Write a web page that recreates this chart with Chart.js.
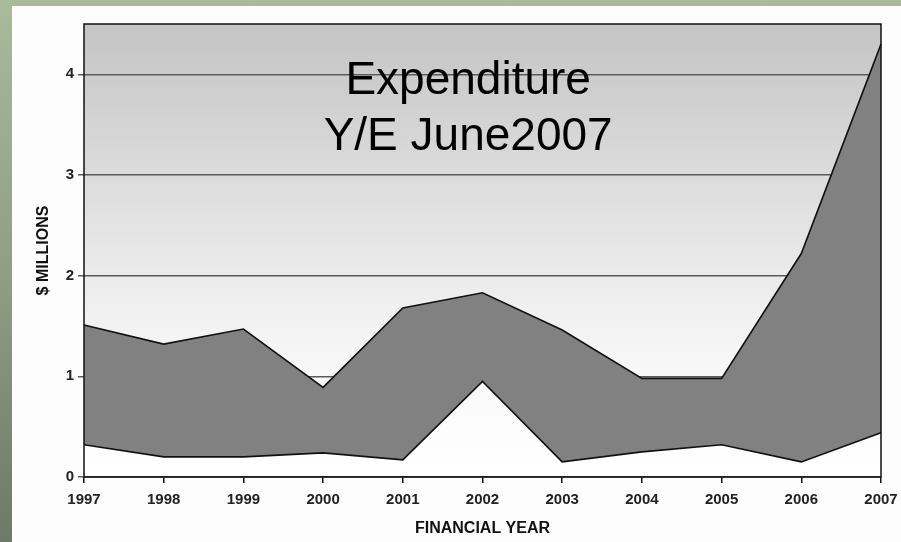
<!DOCTYPE html>
<html>
<head>
<meta charset="utf-8">
<script src="https://cdn.jsdelivr.net/npm/chart.js@4.4.1/dist/chart.umd.min.js"></script>
<style>
  html, body { margin:0; padding:0; }
  body {
    width:901px; height:542px; overflow:hidden;
    background: linear-gradient(to bottom, #a9bb9b 0%, #8f9e84 50%, #6c7a67 100%);
    position:relative;
  }
  #wrap {
    position:absolute; left:12px; top:6px; width:889px; height:536px;
    background:#fdfdfd;
  }
</style>
</head>
<body>
<div id="wrap"><canvas id="chart" width="889" height="536"></canvas></div>
<script>
// ---- data ----
const years     = ['1997','1998','1999','2000','2001','2002','2003','2004','2005','2006','2007'];
const upperVals = [1.51, 1.32, 1.47, 0.89, 1.68, 1.83, 1.46, 0.98, 0.98, 2.22, 4.30];
const lowerVals = [0.32, 0.20, 0.20, 0.24, 0.17, 0.95, 0.15, 0.25, 0.32, 0.15, 0.44];
const yTicks    = [0, 1, 2, 3, 4];
const titleLines = ['Expenditure', 'Y/E June2007'];

const FONT = 'Liberation Sans, Arial, sans-serif';

// gradient behind the plot + frame + title text
const plotDeco = {
  id: 'plotDeco',
  beforeDraw(chart) {
    const { ctx, chartArea: a } = chart;
    const g = ctx.createLinearGradient(0, a.top, 0, a.bottom);
    g.addColorStop(0, '#c4c4c4');
    g.addColorStop(0.55, '#ebebeb');
    g.addColorStop(0.8, '#fafafa');
    g.addColorStop(1, '#ffffff');
    ctx.save();
    ctx.fillStyle = g;
    ctx.fillRect(a.left, a.top, a.right - a.left, a.bottom - a.top);
    ctx.restore();
  },
  afterDatasetsDraw(chart) {
    const { ctx, chartArea: a } = chart;
    ctx.save();
    ctx.fillStyle = '#000';
    ctx.font = '46px ' + FONT;
    ctx.textAlign = 'center';
    ctx.textBaseline = 'alphabetic';
    const cx = a.left + (a.right - a.left) * 0.482;
    ctx.fillText(titleLines[0], cx, a.top + 70);
    ctx.fillText(titleLines[1], cx, a.top + 126);
    ctx.strokeStyle = '#111';
    ctx.lineWidth = 1.5;
    ctx.strokeRect(a.left, a.top, a.right - a.left, a.bottom - a.top);
    ctx.restore();
  }
};

new Chart(document.getElementById('chart'), {
  type: 'line',
  data: {
    labels: years,
    datasets: [
      {
        label: 'Lower',
        data: lowerVals,
        borderColor: '#111',
        borderWidth: 1.6,
        pointRadius: 0,
        tension: 0,
        fill: false,
      },
      {
        label: 'Upper',
        data: upperVals,
        borderColor: '#111',
        borderWidth: 1.6,
        pointRadius: 0,
        tension: 0,
        fill: { target: 0 },
        backgroundColor: '#818181',
      }
    ]
  },
  options: {
    responsive: false,
    animation: false,
    layout: { padding: { top: 18, right: 20, left: 0, bottom: 0 } },
    plugins: {
      legend: { display: false },
      tooltip: { enabled: false },
    },
    scales: {
      x: {
        type: 'category',
        offset: false,
        grid: { drawOnChartArea: false, drawTicks: true, tickLength: 6, color: '#111', lineWidth: 1.5 },
        border: { display: false },
        ticks: { color: '#222', font: { family: FONT, size: 15, weight: 'bold' }, maxRotation: 0, padding: 8 },
        title: { display: true, text: 'FINANCIAL YEAR', color: '#111', font: { family: FONT, size: 16, weight: 'bold' }, padding: { top: 4, bottom: 4 } },
        afterFit: s => { s.height = 65; s.paddingRight = 0; s.paddingLeft = 0; },
      },
      y: {
        min: 0,
        max: 4.5,
        afterBuildTicks: s => { s.ticks = yTicks.map(v => ({ value: v })); },
        grid: { color: '#5a5a5a', lineWidth: 1.5, tickLength: 6, drawTicks: true },
        border: { display: false },
        ticks: { color: '#222', font: { family: FONT, size: 15, weight: 'bold' }, padding: 4 },
        title: { display: true, text: '$ MILLIONS', color: '#111', font: { family: FONT, size: 16, weight: 'bold' }, padding: { top: 22, bottom: 4 } },
        afterFit: s => { s.width = 72; },
      }
    }
  },
  plugins: [plotDeco]
});
</script>
</body>
</html>
